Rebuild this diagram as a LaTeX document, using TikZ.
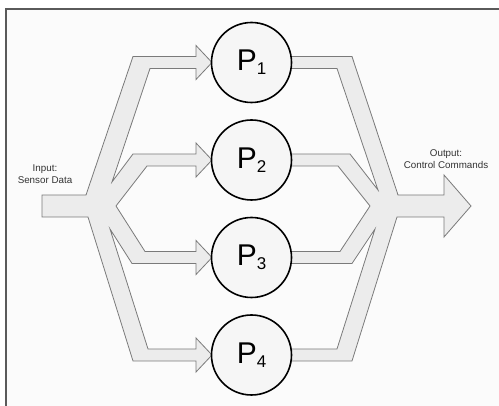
\documentclass[tikz,border=0pt]{standalone}
\usepackage{fontspec}
\setmainfont{Liberation Sans}
\definecolor{flowfill}{HTML}{ECECEC}
\definecolor{flowline}{HTML}{7A7A7A}
\definecolor{procfill}{HTML}{F6F6F6}
\definecolor{bgcol}{HTML}{FBFBFB}
\definecolor{framecol}{HTML}{5A5A5A}
\definecolor{txt}{HTML}{333333}
\begin{document}
\begin{tikzpicture}[x=1pt,y=-1pt,
  flow/.style={fill=flowfill, draw=flowline, line width=0.8pt, line join=miter},
  proc/.style={circle, draw=black, line width=1.6pt, fill=procfill, minimum size=80pt, inner sep=0pt},
  lbl/.style={font=\fontsize{9.8}{11.6}\selectfont, text=txt, align=center}]
\useasboundingbox (0,0) rectangle (499,406);
\fill[white] (0,0) rectangle (499,406);
\fill[bgcol] (6,9) rectangle (499,406);
\draw[framecol, line width=1.2pt] (6,406) -- (6,9) -- (499,9);
% left distribution arrows
\draw[flow] (42,195) -- (86,195) -- (133,56.5) -- (196,56.5) -- (196,45.5) -- (212,62.5) -- (196,79.5) -- (196,68.5) -- (150,68.5)
  -- (112,182) -- (133,154) -- (196,154) -- (196,143) -- (212,160) -- (196,177) -- (196,166) -- (147,166)
  -- (116,206) -- (145,251.5) -- (196,251.5) -- (196,240.5) -- (212,257.5) -- (196,274.5) -- (196,263.5) -- (132,263.5)
  -- (110,229) -- (148,349) -- (196,349) -- (196,338) -- (212,355) -- (196,372) -- (196,361) -- (133,361)
  -- (88,217) -- (42,217) -- cycle;
% right merging arrows
\draw[flow] (270,56.5) -- (352,56.5) -- (398,195) -- (444,195) -- (444,175) -- (471,206) -- (444,237) -- (444,217) -- (397,217)
  -- (352,361) -- (270,361) -- (270,349) -- (337,349) -- (375,229) -- (352,263.5) -- (270,263.5) -- (270,251.5) -- (340,251.5)
  -- (370,206) -- (338,166) -- (270,166) -- (270,154) -- (350,154) -- (378,190) -- (337,68.5) -- (270,68.5) -- cycle;
% processors
\node[proc] (p1) at (251.5,62.5) {\fontsize{30}{30}\selectfont P\raisebox{-4pt}{\fontsize{17}{17}\selectfont 1}};
\node[proc] (p2) at (251.5,160) {\fontsize{30}{30}\selectfont P\raisebox{-4pt}{\fontsize{17}{17}\selectfont 2}};
\node[proc] (p3) at (251.5,257.5) {\fontsize{30}{30}\selectfont P\raisebox{-4pt}{\fontsize{17}{17}\selectfont 3}};
\node[proc] (p4) at (251.5,355) {\fontsize{30}{30}\selectfont P\raisebox{-4pt}{\fontsize{17}{17}\selectfont 4}};
% labels
\node[lbl] (inlbl) at (45,174) {Input:\\Sensor Data};
\node[lbl] (outlbl) at (446,159) {Output:\\Control Commands};
\end{tikzpicture}
\end{document}
